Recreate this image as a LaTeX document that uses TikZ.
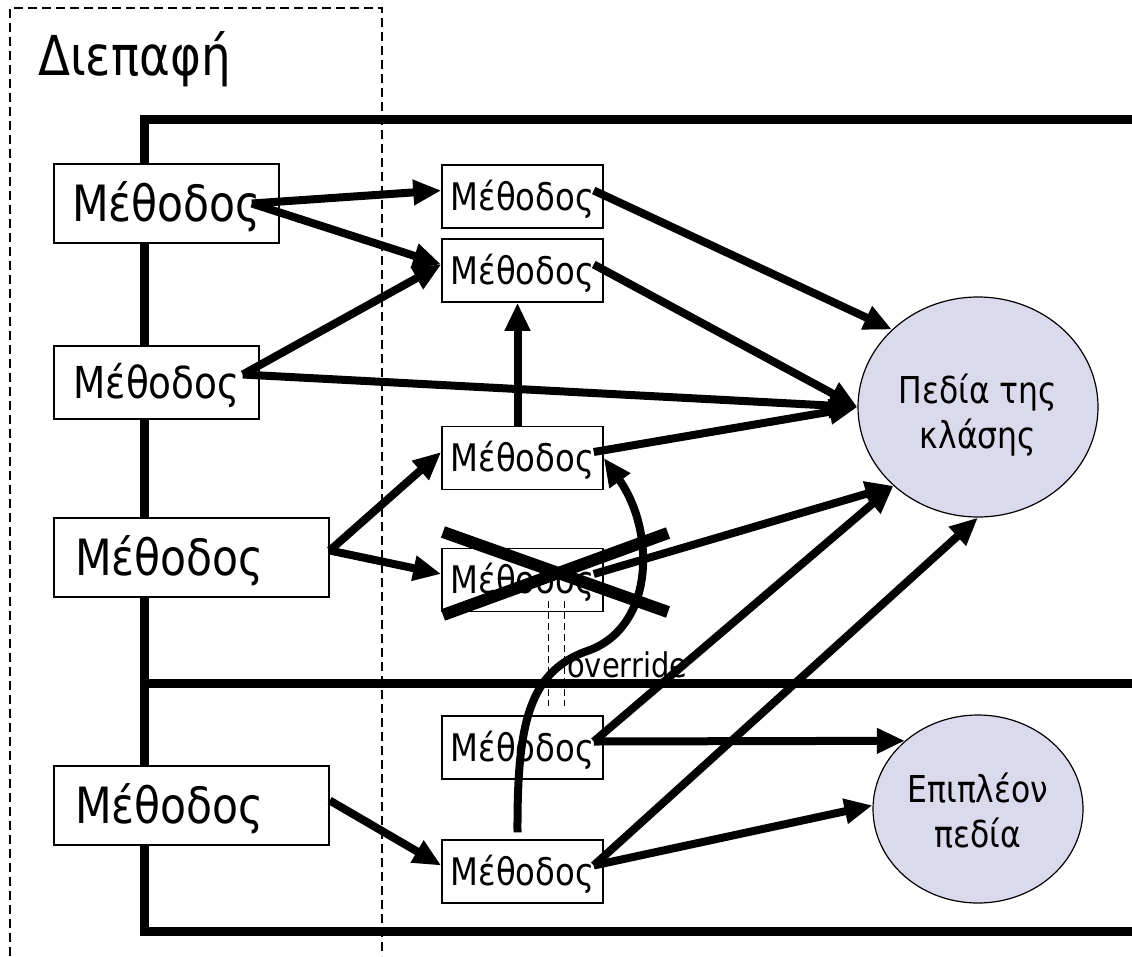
\documentclass[tikz,border=0pt]{standalone}
\usepackage{fontspec}
\setmainfont{DejaVu Sans}[FakeStretch=0.85]
\usetikzlibrary{arrows.meta,shapes.geometric}

\definecolor{fieldfill}{RGB}{218,218,236}

\begin{document}
\begin{tikzpicture}[%
      x=1pt, y=-1pt,
      method/.style={draw=black, line width=1.5pt, fill=white, inner sep=0pt},
      bigmethod/.style={method, font=\fontsize{50}{60}\selectfont, text height=36.5pt, text depth=0pt, minimum height=79pt},
      midmethod/.style={method, font=\fontsize{44}{53}\selectfont, text height=32pt, text depth=0pt, minimum height=73pt},
      smallmethod/.style={method, font=\fontsize{38}{46}\selectfont, text height=27.7pt, text depth=0pt, minimum width=161pt, minimum height=63pt},
      field/.style={ellipse, draw=black, line width=1.2pt, fill=fieldfill, inner sep=0pt},
      fieldtext/.style={align=center, inner sep=0pt, font=\fontsize{37}{45}\selectfont},
      arrow/.style={line width=8pt, -{Triangle[length=28pt,width=24pt]}},
      frame/.style={line width=9pt}
      ]
      \pgfmathsetmacro{\xmax}{1132};
      \pgfmathsetmacro{\ymax}{956};

      \useasboundingbox (0,0) rectangle (\xmax,\ymax);

      % Interface
      \draw[line width=1.3pt, dash pattern=on 9pt off 5pt] (10,\ymax) -- (10,8) -- (382,8) -- (382,\ymax);
      \node[anchor=base west, inner sep=0pt, font=\fontsize{55}{66}\selectfont] (iface) at (38,75) {Διεπαφή};

      % Class and subclass frame
      \draw[frame] (\xmax,119) -- (144,119) -- (144,931) -- (\xmax,931);
      \draw[frame] (144,683) -- (\xmax,683);

      % Public methods
      \node[bigmethod, minimum width=225pt] (m1) at (166.5,203.5) {Μέθοδος};
      \node[midmethod, minimum width=205pt] (m2) at (156.5,382.5) {Μέθοδος};
      \node[bigmethod, text width=233pt, inner xsep=21pt, align=left] (m3) at (191.5,557.5) {Μέθοδος};
      \node[bigmethod, text width=233pt, inner xsep=21pt, align=left] (m4) at (191.5,805.5) {Μέθοδος};

      \coordinate (m1-out) at ([xshift=-28pt]m1.east);
      \coordinate (m2-out) at ([xshift=-17pt,yshift=8pt]m2.east);
      \coordinate (m3-out) at ([yshift=7pt]m3.east);
      \coordinate (m4-out) at ([yshift=5pt]m4.east);

      % Inner methods
      \foreach \name/\y in {ma/196.5, mb/270.5, mc/458, md/580, me/747.5, mf/871.5}{
        \node[smallmethod] (\name) at (522.5,\y) {Μέθοδος};
        \coordinate (\name-in) at ([yshift=6pt]\name.west);
        \coordinate (\name-out) at ([xshift=-10pt,yshift=6pt]\name.east);
      }

      % Fields
      \node[field, minimum width=240pt, minimum height=220pt] (c1) at (978,407) {};
      \node[fieldtext] (c1-text) at ([yshift=-8pt]c1.center) {Πεδία της\\κλάσης};
      \node[field, minimum width=210pt, minimum height=188pt] (c2) at (978,809) {};
      \node[fieldtext] (c2-text) at ([yshift=-1.5pt]c2.center) {Επιπλέον\\πεδία};

      % Calls
      \foreach \from/\to in {%
        m1-out/ma-in, m1-out/mb-in, m2-out/mb-in, m2-out/c1.180,%
        ma-out/c1.138, mb-out/c1.180, mc-out/c1.180,%
        m3-out/mc-in, m3-out/md-in, md-out/c1.223,%
        me-out/c1.223, me-out/c2.137, mf-out/c1.270, mf-out/c2.178,%
        m4-out/mf-in%
      }{
        \draw[arrow] (\from) -- (\to);
      }
      \draw[arrow] ([xshift=-5pt]mc.north) -- ([xshift=-5pt]mb.south);

      % Crossed out method
      \draw[line width=12pt] (443,532) -- (668,612);
      \draw[line width=12pt] (443,615) -- (668,533);

      % Override
      \draw[line width=1.3pt, dash pattern=on 7pt off 4pt] ([xshift=26pt,yshift=11pt]md.south) -- ([xshift=26pt,yshift=9pt]me.north);
      \draw[line width=1.3pt, dash pattern=on 7pt off 4pt] ([xshift=42pt,yshift=11pt]md.south) -- ([xshift=42pt,yshift=9pt]me.north);
      \node[anchor=base west, inner sep=0pt, font=\fontsize{34}{40}\selectfont] (ovr) at (567,677) {override};
      \draw[arrow] ([xshift=-5pt,yshift=7pt]mf.north) .. controls (517,720) and (530,670) .. (590,650)
        .. controls (655,625) and (655,530) .. (mc.east);

    \end{tikzpicture}
\end{document}
